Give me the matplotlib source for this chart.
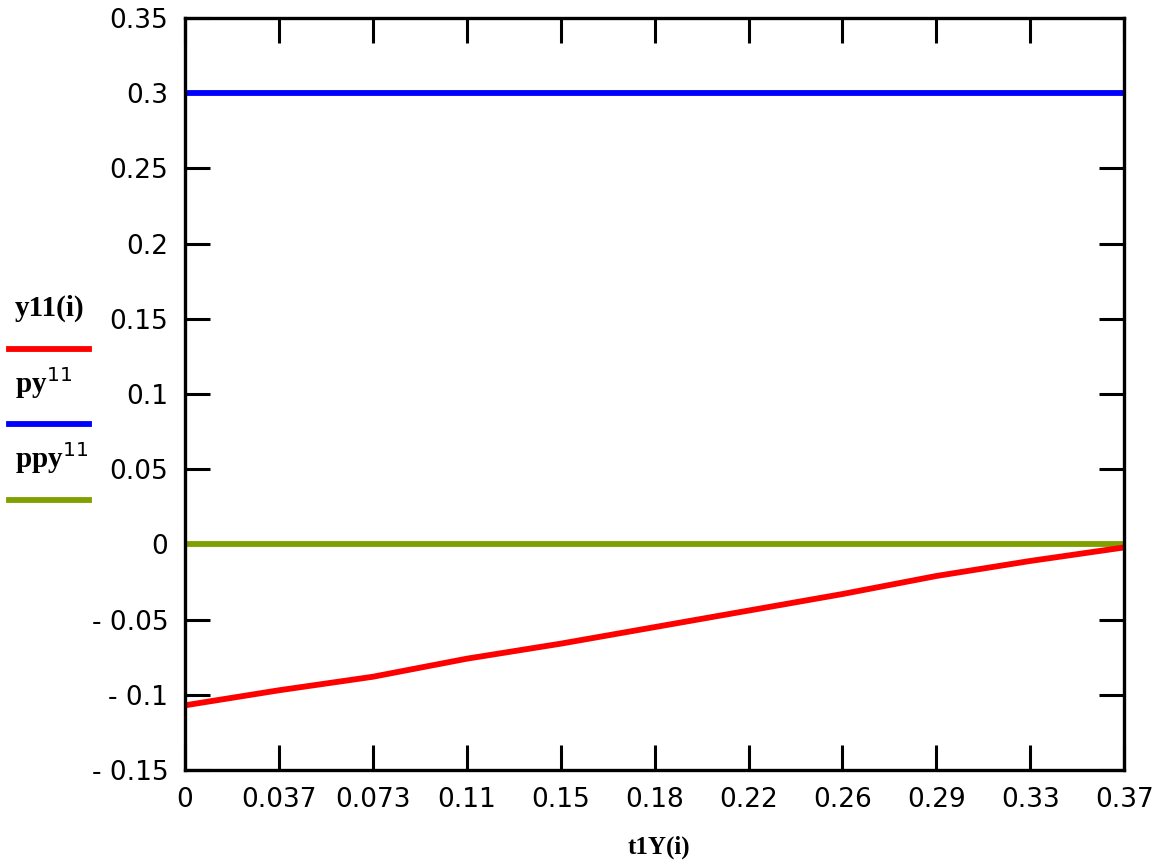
import numpy as np
import matplotlib
matplotlib.use('Agg')
import matplotlib.pyplot as plt
from matplotlib.lines import Line2D

## data
t_vals = [0, 0.037, 0.074, 0.111, 0.148, 0.185, 0.222, 0.259, 0.296, 0.333, 0.37]
y11 = [-0.107, -0.097, -0.088, -0.076, -0.066, -0.055, -0.044, -0.033, -0.021, -0.011, -0.002]
py11 = [0.3, 0.3]
ppy11 = [0.0, 0.0]
x_ticks = [i * 0.037 for i in range(11)]
x_labels = ['0', '0.037', '0.073', '0.11', '0.15', '0.18', '0.22', '0.26', '0.29', '0.33', '0.37']
y_ticks = [-0.15, -0.1, -0.05, 0, 0.05, 0.1, 0.15, 0.2, 0.25, 0.3, 0.35]
y_labels = ['- 0.15', '- 0.1', '- 0.05', '0', '0.05', '0.1', '0.15', '0.2', '0.25', '0.3', '0.35']
legend_names = ['y11(i)', 'py$^{11}$', 'ppy$^{11}$']
colors = ['#ff0000', '#0000ff', '#80a000']

fig = plt.figure(figsize=(11.71, 8.61), dpi=100)
ax = fig.add_axes([0.158, 0.1057, 0.802, 0.8733])

ax.plot([0, 0.37], py11, color=colors[1], lw=4.2, solid_capstyle='butt')
ax.plot([0, 0.37], ppy11, color=colors[2], lw=4.2, solid_capstyle='butt')
ax.plot(t_vals, y11, color=colors[0], lw=4.2, solid_capstyle='butt')

ax.set_xlim(0, 0.37)
ax.set_ylim(-0.15, 0.35)
ax.set_xticks(x_ticks)
ax.set_xticklabels(x_labels)
ax.set_yticks(y_ticks)
ax.set_yticklabels(y_labels)
ax.tick_params(direction='in', length=18, width=2.2, top=True, right=True,
               labelsize=19, pad=12)
for s in ax.spines.values():
    s.set_linewidth(2.4)

# x label sits at the very bottom edge
fig.text(0.563, 0.002, 't1Y(i)', fontsize=18, family='Liberation Serif',
         fontweight='bold', ha='center', va='bottom')

# legend at the left, outside the axes
text_y = [0.642, 0.555, 0.468]
line_y = [0.595, 0.508, 0.419]
for name, c, ty, ly in zip(legend_names, colors, text_y, line_y):
    fig.text(0.013, ty, name, fontsize=21, family='Liberation Serif',
             fontweight='bold', ha='left', va='center')
    fig.add_artist(Line2D([0.008, 0.076], [ly, ly], color=c, lw=4.2,
                          transform=fig.transFigure))

fig.savefig('out.png', dpi=100)
